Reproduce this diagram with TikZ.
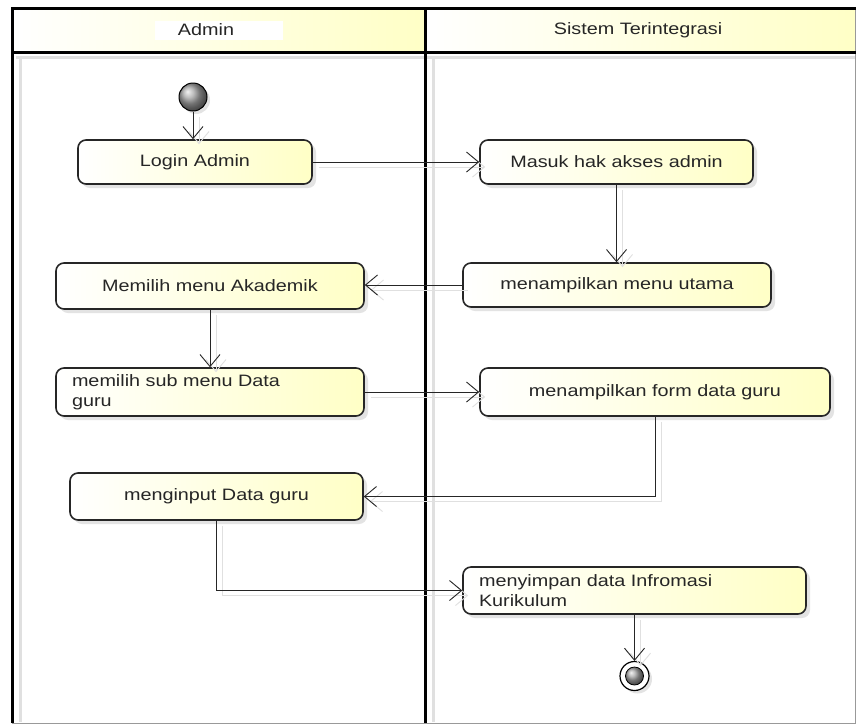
\documentclass[tikz,border=0pt]{standalone}
\usepackage{fontspec}
\setmainfont{Liberation Sans}[FakeStretch=1.2]
\usetikzlibrary{arrows.meta,shadows}
\definecolor{ltyel}{RGB}{255,255,198}
\newcommand{\nodefont}{\fontsize{16.5}{20}\selectfont}
\begin{document}
\begin{tikzpicture}[x=1pt,y=-1pt,
  act/.style={draw=black!85, line width=1.6pt, rounded corners=8pt,
    left color=white, right color=ltyel,
    drop shadow={opacity=0.22, shadow xshift=4pt, shadow yshift=-4pt},
    inner sep=0pt, font=\nodefont, text=black!85},
  conn/.style={draw=black!85, line width=0.9pt,
    -{Straight Barb[length=12pt,width=20pt,line width=0.9pt]},
    preaction={draw=black!12, line width=1pt, transform canvas={shift={(6pt,-5pt)}}}},
  lane/.style={line width=3pt, black},
  lshadow/.style={line width=3pt, black!12},
  hdr/.style={font=\nodefont, text=black!85}
]
\useasboundingbox (0,0) rectangle (856,724);
\fill[white] (0,0) rectangle (856,724);
% header cells
\shade[left color=white, right color=ltyel] (12,8) rectangle (425,52);
\shade[left color=white, right color=ltyel] (425,8) rectangle (856,52);
% shadows of frame lines
\draw[lshadow] (20,56) -- (20,722);
\draw[lshadow] (433,56) -- (433,722);
\draw[lshadow] (16,57) -- (856,57);
% frame
\draw[black!40, line width=0.8pt] (855,8) -- (855,723) -- (12,723);
\draw[lane] (12,723) -- (12,8) -- (856,8);
\draw[lane] (12,52) -- (856,52);
\draw[lane] (425,8) -- (425,723);
% header texts
\fill[white] (155,21) rectangle (283,40);
\node[hdr] (hadmin) at (206,30) {Admin};
\node[hdr] (hsys) at (638,30) {Sistem Terintegrasi};
% nodes
\node[circle, minimum size=28pt, inner sep=0pt, draw=black, line width=1pt,
  ball color=gray!70, drop shadow={opacity=0.22, shadow xshift=3pt, shadow yshift=-3pt}] (start) at (193,97) {};
\node[act, minimum width=234pt, minimum height=44pt] (login) at (195,162) {Login Admin};
\node[act, minimum width=273pt, minimum height=44pt] (masuk) at (616.5,162) {Masuk hak akses admin};
\node[act, minimum width=308pt, minimum height=44pt] (utama) at (617,285) {menampilkan menu utama};
\node[act, minimum width=308pt, minimum height=46pt] (akad) at (210,286) {Memilih menu Akademik};
\node[act, minimum width=308pt, minimum height=48pt, text width=276pt, align=left] (sub) at (210,392) {memilih sub menu Data\\guru};
\node[act, minimum width=350pt, minimum height=48pt] (form) at (655,392) {menampilkan form data guru};
\node[act, minimum width=293pt, minimum height=47pt] (input) at (216.5,496.5) {menginput Data guru};
\node[act, minimum width=343pt, minimum height=47pt, text width=311pt, align=left] (simpan) at (634.5,590.5) {menyimpan data Infromasi\\Kurikulum};
\node[circle, minimum size=29pt, inner sep=0pt, draw=black, line width=1.2pt, fill=white,
  drop shadow={opacity=0.22, shadow xshift=3pt, shadow yshift=-3pt}] (fin) at (634.5,676) {};
\node[circle, minimum size=18pt, inner sep=0pt, draw=black, line width=0.8pt, ball color=gray!70] (fincore) at (fin) {};
% connectors
\draw[conn] (start) -- (start |- login.north);
\draw[conn] (login.east) -- (masuk.west);
\draw[conn] (masuk.south) -- (masuk.south |- utama.north);
\draw[conn] (utama.west) -- (utama.west -| akad.east);
\draw[conn] (akad.south) -- (sub.north);
\draw[conn] (sub.east) -- (form.west);
\draw[conn] (form.south) |- (input.east);
\draw[conn] (input.south) |- (simpan.west);
\draw[conn] (simpan.south) -- (fin.north);
\end{tikzpicture}
\end{document}
